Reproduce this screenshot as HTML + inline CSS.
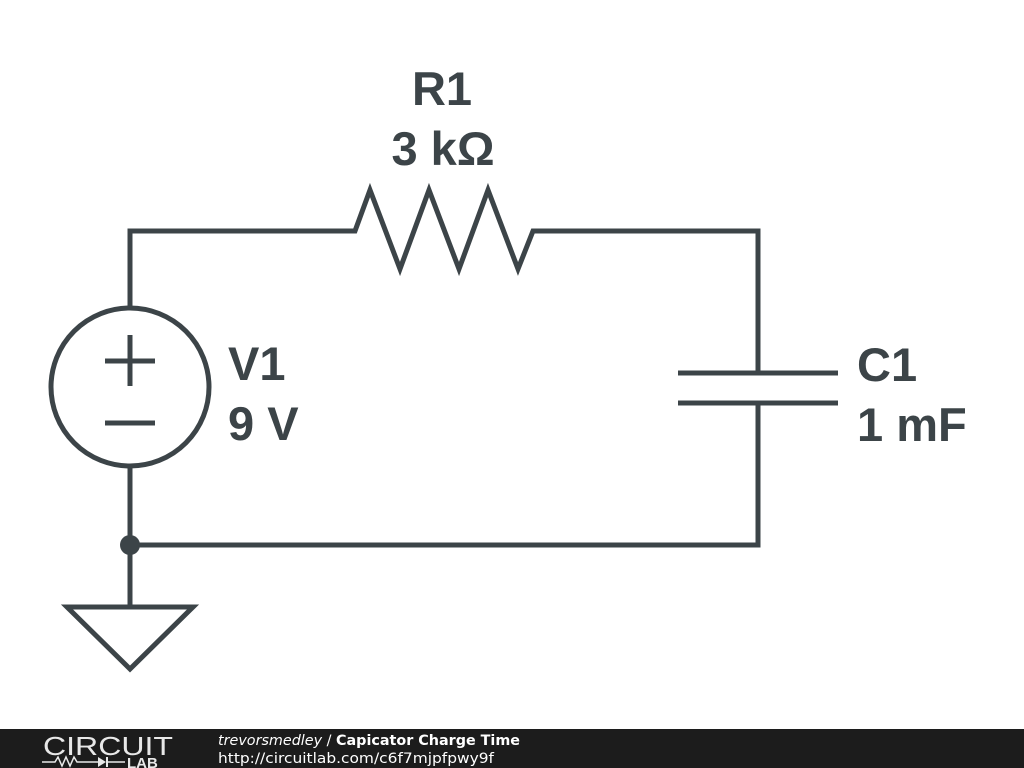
<!DOCTYPE html>
<html><head><style>
body{margin:0;width:1024px;height:768px;background:#fff;overflow:hidden;position:relative;font-family:"Liberation Sans",sans-serif}
svg{position:absolute;left:0;top:0}
</style></head><body>
<svg width="1024" height="768" viewBox="0 0 1024 768">
<g fill="none" stroke="#3c4448" stroke-width="5" stroke-linejoin="miter" stroke-linecap="butt">
<polyline points="130,307 130,231 355,231 370,190 400,269 429,190 459,269 488,190 518,269 533,231 758,231 758,373"/>
<circle cx="130" cy="387" r="79"/>
<line x1="105" y1="361" x2="155" y2="361"/>
<line x1="130" y1="335" x2="130" y2="386"/>
<line x1="105" y1="423" x2="155" y2="423"/>
<polyline points="130,466 130,545 758,545 758,403"/>
<line x1="678" y1="373" x2="838" y2="373"/>
<line x1="678" y1="403" x2="838" y2="403"/>
<line x1="130" y1="545" x2="130" y2="607"/>
<polygon points="67,607 193,607 130,669"/>
</g>
<circle cx="130" cy="545" r="10" fill="#3c4448"/>
<g fill="#3c4448" font-family="Liberation Sans, sans-serif" font-weight="bold" font-size="47">
<text x="442" y="105" text-anchor="middle">R1</text>
<text x="443" y="165" text-anchor="middle">3 kΩ</text>
<text x="228" y="380">V1</text>
<text x="228" y="440">9 V</text>
<text x="857" y="381">C1</text>
<text x="857" y="441">1 mF</text>
</g>
<rect x="0" y="729" width="1024" height="39" fill="#1c1c1c"/>
<text x="43" y="755" fill="#e8e8e8" font-size="26" font-family="Liberation Sans, sans-serif" textLength="130" lengthAdjust="spacingAndGlyphs" font-weight="normal">CIRCUIT</text>
<polyline points="42,762 55,762 58,757 62,766 66,757 70,766 74,757 77,762 98,762" fill="none" stroke="#e8e8e8" stroke-width="1.5"/>
<polygon points="98,757 98,767 106,762" fill="#e8e8e8"/>
<line x1="107" y1="757" x2="107" y2="767" stroke="#e8e8e8" stroke-width="2"/>
<line x1="107" y1="762" x2="125" y2="762" stroke="#e8e8e8" stroke-width="1.5"/>
<text x="127" y="768" fill="#e8e8e8" font-size="15" font-weight="bold" font-family="Liberation Sans, sans-serif">LAB</text>
<text x="218" y="745" fill="#fff" font-size="14.2" font-family="DejaVu Sans, sans-serif" textLength="302" lengthAdjust="spacingAndGlyphs"><tspan font-style="italic">trevorsmedley</tspan> / <tspan font-weight="bold">Capicator Charge Time</tspan></text>
<text x="218" y="763" fill="#fff" font-size="14.2" font-family="DejaVu Sans, sans-serif" textLength="276" lengthAdjust="spacingAndGlyphs">http://circuitlab.com/c6f7mjpfpwy9f</text>
</svg>
</body></html>
